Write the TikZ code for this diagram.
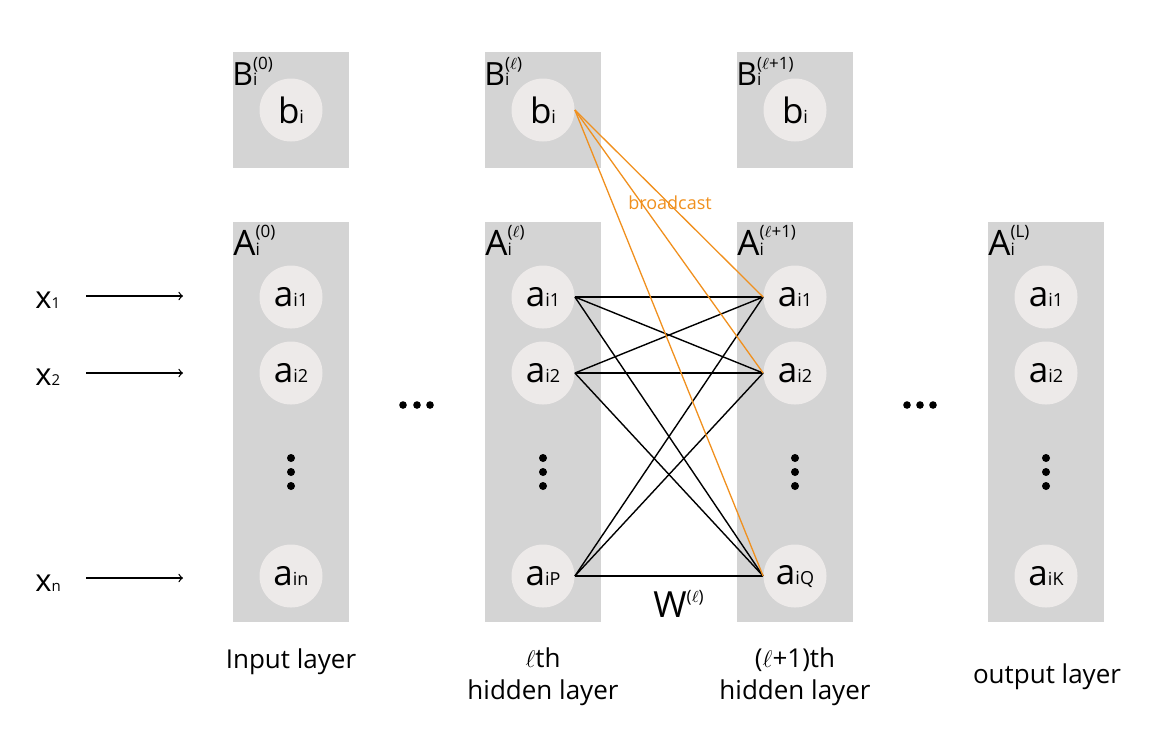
\documentclass[tikz,border=0pt]{standalone}
\usepackage{fontspec}
\setmainfont{Open Sans}
\usepackage{tikz}
\usetikzlibrary{arrows}
\definecolor{boxgray}{HTML}{D4D4D4}
\definecolor{cellgray}{HTML}{EDEAE9}
\definecolor{bcorange}{HTML}{F0901E}
\tikzstyle{layerA} = [rectangle, fill=boxgray, minimum width=58pt, minimum height=200pt, inner sep=0pt]
\tikzstyle{layerB} = [rectangle, fill=boxgray, minimum width=58pt, minimum height=58pt, inner sep=0pt]
\tikzstyle{cell} = [circle, fill=cellgray, minimum size=31.5pt, inner sep=0pt, font=\fontsize{17.5}{18}\selectfont]
\tikzstyle{lbl} = [inner sep=0pt, anchor=base west, font=\fontsize{17.5}{18}\selectfont]
\tikzstyle{layertext} = [inner sep=0pt, align=center, font=\fontsize{13}{16}\selectfont]
\tikzstyle{arrow} = [->,>=to, line width=0.65pt]
\tikzstyle{wline} = [line width=0.7pt]
\tikzstyle{bline} = [draw=bcorange, line width=0.65pt]
\newcommand{\cellsub}[2]{#1{\fontsize{9}{9}\selectfont #2}}
\newcommand{\xsub}[2]{#1{\fontsize{7.5}{7.5}\selectfont #2}}
\newcommand{\supsub}[3]{#1\rlap{\raisebox{0.5em}{\fontsize{8.5}{8.5}\selectfont #2}}{\fontsize{8.5}{8.5}\selectfont #3}}
\begin{document}
\begin{tikzpicture}[x=0.5pt, y=-0.5pt]
\useasboundingbox (0,0) rectangle (1171,746);
%各层的方框
\node[layerB](B0) at (291,110) {};
\node[layerB](Bl) at (543,110) {};
\node[layerB](Bm) at (795,110) {};
\node[layerA](A0) at (291,422) {};
\node[layerA](Al) at (543,422) {};
\node[layerA](Am) at (795,422) {};
\node[layerA](AL) at (1046,422) {};
%方框标签
\node[lbl, font=\fontsize{16}{16}\selectfont](B0t) at (232,85) {\supsub{B}{(0)}{i}};
\node[lbl, font=\fontsize{16}{16}\selectfont](Blt) at (484,85) {\supsub{B}{($\ell$)}{i}};
\node[lbl, font=\fontsize{16}{16}\selectfont](Bmt) at (736,85) {\supsub{B}{($\ell$+1)}{i}};
\node[lbl](A0t) at (233,255) {\supsub{A}{(0)}{i}};
\node[lbl](Alt) at (485,255) {\supsub{A}{($\ell$)}{i}};
\node[lbl](Amt) at (737,255) {\supsub{A}{($\ell$+1)}{i}};
\node[lbl](ALt) at (988,255) {\supsub{A}{(L)}{i}};
%偏置节点
\node[cell](b0) at (291,110) {\cellsub{b}{i}};
\node[cell](bl) at (543,110) {\cellsub{b}{i}};
\node[cell](bm) at (795,110) {\cellsub{b}{i}};
%神经元
\node[cell](in1) at (291,297) {\cellsub{a}{i1}};
\node[cell](in2) at (291,373) {\cellsub{a}{i2}};
\node[cell](inn) at (291,576) {\cellsub{a}{in}};
\node[cell](hl1) at (543,297) {\cellsub{a}{i1}};
\node[cell](hl2) at (543,373) {\cellsub{a}{i2}};
\node[cell](hlP) at (543,576) {\cellsub{a}{iP}};
\node[cell](hm1) at (795,297) {\cellsub{a}{i1}};
\node[cell](hm2) at (795,373) {\cellsub{a}{i2}};
\node[cell](hmQ) at (795,576) {\cellsub{a}{iQ}};
\node[cell](out1) at (1046,297) {\cellsub{a}{i1}};
\node[cell](out2) at (1046,373) {\cellsub{a}{i2}};
\node[cell](outK) at (1046,576) {\cellsub{a}{iK}};
%省略号
\foreach \cx in {291,543,795,1046}
  \foreach \cy in {458,472,486}
    \fill (\cx,\cy) circle (2pt);
\foreach \cx in {403,417,430,907,920,933}
  \fill (\cx,405) circle (1.9pt);
%输入
\node[lbl, font=\fontsize{15.5}{16}\selectfont](x1) at (35,308) {\xsub{x}{1}};
\node[lbl, font=\fontsize{15.5}{16}\selectfont](x2) at (35,385) {\xsub{x}{2}};
\node[lbl, font=\fontsize{15.5}{16}\selectfont](xn) at (35,591) {\xsub{x}{n}};
\coordinate (x1a) at (86,296);
\coordinate (x1b) at (183,296);
\coordinate (x2a) at (86,373);
\coordinate (x2b) at (183,373);
\coordinate (xna) at (86,578);
\coordinate (xnb) at (183,578);
\draw [arrow] (x1a) -- (x1b);
\draw [arrow] (x2a) -- (x2b);
\draw [arrow] (xna) -- (xnb);
%权重连线
\foreach \s in {1,2,P}
  \foreach \t in {1,2,Q}
    \draw [wline] (hl\s.east) -- (hm\t.west);
\foreach \t in {1,2,Q}
  \draw [bline] (bl.east) -- (hm\t.west);
\node[inner sep=0pt, anchor=base, text=bcorange, font=\fontsize{9}{9}\selectfont](bc) at (670,209) {broadcast};
\node[lbl, font=\fontsize{18}{18}\selectfont](W) at (653,617) {W\raisebox{0.4em}{\fontsize{8.5}{8.5}\selectfont ($\ell$)}};
%层名称
\node[layertext, anchor=base](t0) at (291,668) {Input layer};
\node[layertext, anchor=north](tl) at (543,647) {$\ell$th\\hidden layer};
\node[layertext, anchor=north](tm) at (795,647) {($\ell$+1)th\\hidden layer};
\node[layertext, anchor=base](tL) at (1047,683) {output layer};
\end{tikzpicture}
\end{document}
